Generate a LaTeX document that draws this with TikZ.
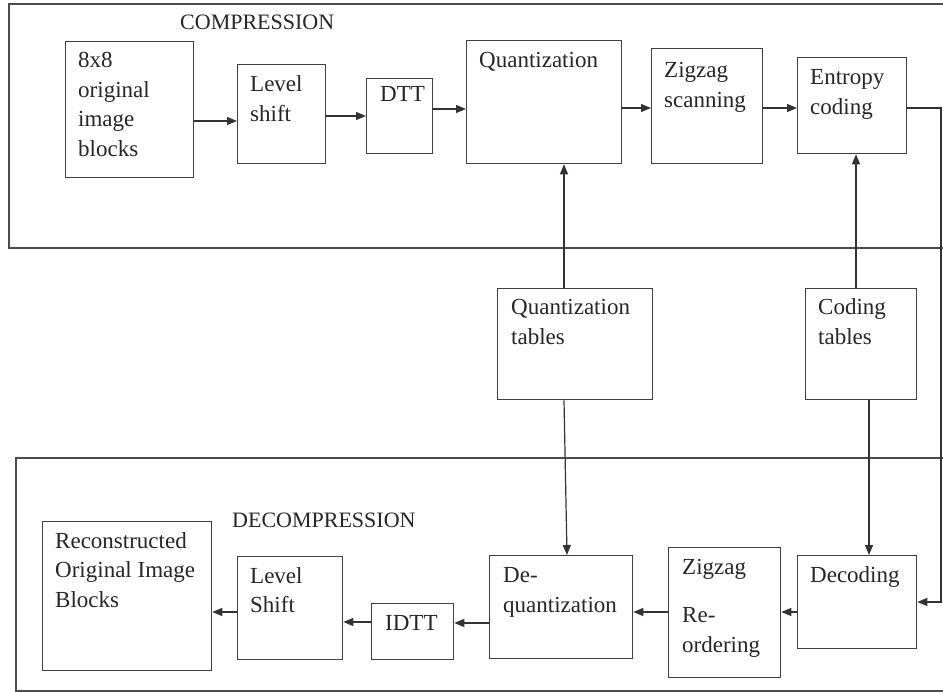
\documentclass[tikz,border=0pt]{standalone}
\usepackage{fontspec}
\setmainfont{Liberation Serif}
\usetikzlibrary{arrows.meta}
\begin{document}
\begin{tikzpicture}[x=1pt,y=-1pt,
 box/.style={draw=black!75, line width=1.3pt, anchor=north west, inner sep=0pt},
 txt/.style={anchor=base west, align=left, inner sep=0pt, font=\fontsize{23}{29.5}\selectfont, text=black!85},
 head/.style={anchor=base west, inner sep=0pt, font=\fontsize{22}{26}\selectfont, text=black!85},
 arr/.style={draw=black!80, line width=1.2pt, -{Triangle[length=10pt,width=8pt]}},
 frame/.style={draw=black!70, line width=1.3pt}]
\useasboundingbox (0,0) rectangle (943,692);
\clip (0,0) rectangle (943,692);
% frames
\draw[frame] (9,4) rectangle (960,248);
\draw[frame] (16,458) rectangle (960,691);
\node[head] (hc) at (180,30) {COMPRESSION};
\node[head] (hd) at (232,528) {DECOMPRESSION};
% compression boxes
\node[box, minimum width=128, minimum height=136] (b1) at (65,41) {};
\node[box, minimum width=88, minimum height=99] (ls) at (237,64) {};
\node[box, minimum width=66, minimum height=75] (dtt) at (366,78) {};
\node[box, minimum width=155, minimum height=123] (q) at (466,40) {};
\node[box, minimum width=111, minimum height=115] (zz) at (651,48) {};
\node[box, minimum width=109, minimum height=96] (ec) at (797,57) {};
% tables
\node[box, minimum width=155, minimum height=111] (qt) at (497,288) {};
\node[box, minimum width=111, minimum height=111] (ct) at (805,288) {};
% decompression boxes
\node[box, minimum width=143, minimum height=103] (dq) at (489,555) {};
\node[box, minimum width=112, minimum height=130] (zr) at (668,547) {};
\node[box, minimum width=119, minimum height=93] (dec) at (797,555) {};
\node[box, minimum width=82, minimum height=56] (idtt) at (371,603) {};
\node[box, minimum width=105, minimum height=103] (lsd) at (237,556) {};
\node[box, minimum width=169, minimum height=149] (rec) at (42,521) {};
% texts (anchor = baseline of last line)
\node[txt] (tb1) at (78,156.5) {8x8\\original\\image\\blocks};
\node[txt] (tls) at (250,121.5) {Level\\shift};
\node[txt] (tdtt) at (380,102) {DTT};
\node[txt] (tq) at (479,68) {Quantization};
\node[txt] (tzz) at (664,107.5) {Zigzag\\scanning};
\node[txt] (tec) at (810,114.5) {Entropy\\coding};
\node[txt] (tqt) at (511,344.5) {Quantization\\tables};
\node[txt] (tct) at (818,344.5) {Coding\\tables};
\node[txt] (tdq) at (503,612) {De-\\quantization};
\node[txt] (tzr) at (682,652) {Zigzag\\[18.5pt]Re-\\ordering};
\node[txt] (tdec) at (810,582) {Decoding};
\node[txt] (trec) at (55,607) {Reconstructed\\Original Image\\Blocks};
\node[txt] (tlsd) at (250,612.5) {Level\\Shift};
\node[txt] (tidtt) at (385,630) {IDTT};
% compression arrows
\draw[arr] (b1.east |- 0,121) -- (ls.west |- 0,121);
\draw[arr] (ls.east |- 0,116) -- (dtt.west |- 0,116);
\draw[arr] (dtt.east |- 0,109) -- (q.west |- 0,109);
\draw[arr] (q.east |- 0,108) -- (zz.west |- 0,108);
\draw[arr] (zz.east |- 0,108) -- (ec.west |- 0,108);
\coordinate (c1) at (941,108);
\coordinate (c2) at (941,602);
\draw[arr] (ec.east |- c1) -- (c1) -- (c2) -- (dec.east |- c2);
% table arrows
\draw[arr] (564,0 |- qt.north) -- (564,0 |- q.south);
\draw[arr] (564,0 |- qt.south) -- (567,0 |- dq.north);
\draw[arr] (856,0 |- ct.north) -- (856,0 |- ec.south);
\draw[arr] (869,0 |- ct.south) -- (869,0 |- dec.north);
% decompression arrows
\draw[arr] (dec.west |- 0,612) -- (zr.east |- 0,612);
\draw[arr] (zr.west |- 0,612) -- (dq.east |- 0,612);
\draw[arr] (dq.west |- 0,623) -- (idtt.east |- 0,623);
\draw[arr] (idtt.west |- 0,622) -- (lsd.east |- 0,622);
\draw[arr] (lsd.west |- 0,612) -- (rec.east |- 0,612);
\end{tikzpicture}
\end{document}
